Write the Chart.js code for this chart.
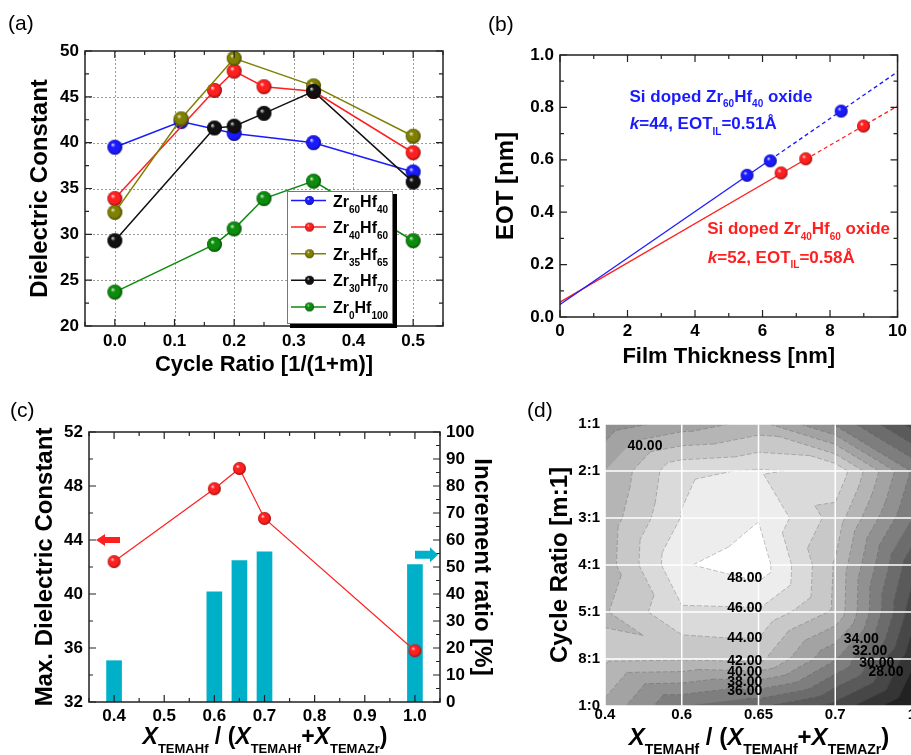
<!DOCTYPE html>
<html>
<head>
<meta charset="utf-8">
<script src="https://cdn.jsdelivr.net/npm/chart.js@4.4.0/dist/chart.umd.min.js"></script>
<style>
html, body { margin: 0; padding: 0; background: #fff; overflow: hidden; width: 911px; height: 755px; }
canvas { position: absolute; }
</style>
</head>
<body>
<canvas id="ca" width="455" height="385" style="left:0;top:0"></canvas>
<canvas id="cb" width="456" height="385" style="left:455px;top:0"></canvas>
<canvas id="cc" width="500" height="367" style="left:0;top:388px"></canvas>
<canvas id="cd" width="440" height="367" style="left:500px;top:388px"></canvas>
<script>
// (a) dielectric constant vs cycle ratio 1/(1+m)
const ratioZr60 = [0, 0.111, 0.2, 0.333, 0.5];
const kZr60 = [39.5, 42.3, 41.0, 40.0, 36.8];
const ratioZr40 = [0, 0.167, 0.2, 0.25, 0.333, 0.5];
const kZr40 = [33.9, 45.7, 47.8, 46.1, 45.6, 38.9];
const ratioZr35 = [0, 0.111, 0.2, 0.333, 0.5];
const kZr35 = [32.4, 42.6, 49.2, 46.2, 40.7];
const ratioZr30 = [0, 0.167, 0.2, 0.25, 0.333, 0.5];
const kZr30 = [29.3, 41.6, 41.8, 43.2, 45.6, 35.7];
const ratioZr0 = [0, 0.167, 0.2, 0.25, 0.333, 0.5];
const kZr0 = [23.7, 28.9, 30.6, 33.9, 35.8, 29.3];
const seriesNames = ['Zr60Hf40', 'Zr40Hf60', 'Zr35Hf65', 'Zr30Hf70', 'Zr0Hf100'];
const legendLabels = ['Zr_{60}Hf_{40}', 'Zr_{40}Hf_{60}', 'Zr_{35}Hf_{65}', 'Zr_{30}Hf_{70}', 'Zr_{0}Hf_{100}'];
const aTicksX = [0, 0.1, 0.2, 0.3, 0.4, 0.5];
const aTicksY = [20, 25, 30, 35, 40, 45, 50];

// (b) EOT vs film thickness
const tZr60 = [5.54, 6.23, 8.33];
const eotZr60 = [0.541, 0.596, 0.786];
const tZr40 = [6.55, 7.28, 8.99];
const eotZr40 = [0.550, 0.604, 0.729];
const fitZr60T = [0, 6.23, 10];
const fitZr60E = [0.048, 0.600, 0.936];
const fitZr40T = [0, 7.28, 10];
const fitZr40E = [0.057, 0.602, 0.805];
const bTicksX = [0, 2, 4, 6, 8, 10];
const bTicksY = [0, 0.2, 0.4, 0.6, 0.8, 1.0];

// (c) max dielectric constant and increment ratio vs Hf fraction
const xHf = [0.4, 0.6, 0.65, 0.7, 1.0];
const kMax = [42.4, 47.8, 49.3, 45.6, 35.8];
const incRatio = [15.3, 40.8, 52.4, 55.6, 50.9];
const cTicksX = [0.4, 0.5, 0.6, 0.7, 0.8, 0.9, 1.0];
const cTicksY = [32, 36, 40, 44, 48, 52];
const cTicksY2 = [0, 10, 20, 30, 40, 50, 60, 70, 80, 90, 100];

// (d) contour map: rows = cycle ratio, columns = Hf fraction
const dCols = ['0.4', '0.6', '0.65', '0.7', '1'];
const dRows = ['1:1', '2:1', '3:1', '4:1', '5:1', '8:1', '1:0'];
const kGrid = [
  [36.8, 38.9, 40.7, 35.7, 29.3],
  [40.0, 45.6, 46.2, 45.6, 35.8],
  [40.8, 46.1, 47.9, 43.2, 34.0],
  [41.0, 47.8, 49.2, 41.8, 30.7],
  [41.8, 45.7, 45.8, 41.6, 29.0],
  [42.4, 42.2, 42.6, 36.2, 26.6],
  [39.5, 34.0, 32.4, 29.3, 23.8],
];
const kLevels = [22, 24, 26, 28, 30, 32, 34, 36, 38, 40, 42, 44, 46, 48];
const contourLabels = [
  ['40.00', 0.52, 0.47], ['48.00', 1.82, 3.27], ['46.00', 1.82, 3.91], ['44.00', 1.82, 4.55],
  ['42.00', 1.82, 5.05], ['40.00', 1.82, 5.27], ['38.00', 1.82, 5.49], ['36.00', 1.82, 5.69],
  ['34.00', 3.34, 4.58], ['32.00', 3.45, 4.83], ['30.00', 3.54, 5.08], ['28.00', 3.66, 5.29],
];

const FONT = '"Liberation Sans", Arial, sans-serif';
Chart.defaults.font.family = FONT;
Chart.defaults.font.weight = 'bold';
Chart.defaults.color = '#000';
Chart.defaults.animation = false;
Chart.defaults.events = [];
Chart.defaults.plugins.legend.display = false;
Chart.defaults.plugins.tooltip.enabled = false;

const seriesColors = ['#1a1aff', '#ff1f1f', '#808000', '#111111', '#0c8c0c'];
const barColor = '#00afc8';

function sphere(color, r) {
  const s = Math.ceil(2 * r + 2);
  const c = document.createElement('canvas');
  c.width = c.height = s;
  const g = c.getContext('2d');
  const m = s / 2;
  g.fillStyle = color;
  g.beginPath(); g.arc(m, m, r, 0, 2 * Math.PI); g.fill();
  const sh = g.createRadialGradient(m - r * 0.32, m - r * 0.38, 0, m, m, r * 1.05);
  sh.addColorStop(0, 'rgba(255,255,255,0.95)');
  sh.addColorStop(0.3, 'rgba(255,255,255,0)');
  sh.addColorStop(0.7, 'rgba(0,0,0,0)');
  sh.addColorStop(1, 'rgba(0,0,0,0.5)');
  g.fillStyle = sh;
  g.beginPath(); g.arc(m, m, r, 0, 2 * Math.PI); g.fill();
  return c;
}

function drawRich(ctx, str, x, y, o) {
  const size = o.size || 17, sub = o.sub || Math.round(size * 0.6);
  const dy = o.dy !== undefined ? o.dy : size * 0.36;
  const weight = o.weight || 'bold';
  const toks = str.split(/(_\{[^}]*\}|\*[^*]+\*)/).filter(s => s).map(s =>
    s.startsWith('_{') ? {t: s.slice(2, -1), s: true} :
    (s[0] === '*' ? {t: s.slice(1, -1), i: true} : {t: s}));
  const font = k => `${k.i ? 'italic ' : ''}${weight} ${k.s ? sub : size}px ${FONT}`;
  let w = 0;
  toks.forEach(k => { ctx.font = font(k); k.w = ctx.measureText(k.t).width; w += k.w; });
  let cx = o.align === 'center' ? x - w / 2 : x;
  ctx.fillStyle = o.color || '#000';
  ctx.textAlign = 'left';
  ctx.textBaseline = 'alphabetic';
  toks.forEach(k => { ctx.font = font(k); ctx.fillText(k.t, cx, k.s ? y + dy : y); cx += k.w; });
}

function axis(o) {
  return {
    type: 'linear', position: o.pos, min: o.min, max: o.max, reverse: !!o.reverse, offset: false,
    grid: {display: false, drawTicks: false, offset: false},
    border: {display: false},
    afterBuildTicks: s => { s.ticks = o.ticks.map(v => ({value: v})); },
    afterFit: s => { if (s.isHorizontal()) s.height = o.fit; else s.width = o.fit; },
    ticks: {callback: o.fmt, autoSkip: false, maxRotation: 0, padding: o.pad, font: {size: o.size || 17, weight: 'bold'}},
    title: o.title ? {display: true, text: o.title, color: '#000', font: {size: o.tsize, weight: 'bold'}, padding: o.tpad} : {display: false},
  };
}

// border, inward ticks and optional dotted grid
const framePlugin = {
  id: 'frame',
  beforeDatasetsDraw(chart, args, o) {
    if (!o.grid) return;
    const {ctx, chartArea: a, scales} = chart;
    ctx.save();
    ctx.strokeStyle = '#9a9a9a'; ctx.lineWidth = 1; ctx.setLineDash([2, 2]);
    ctx.beginPath();
    o.grid.x.forEach(v => { const p = Math.round(scales.x.getPixelForValue(v)) + 0.5; ctx.moveTo(p, a.top); ctx.lineTo(p, a.bottom); });
    o.grid.y.forEach(v => { const p = Math.round(scales.y.getPixelForValue(v)) + 0.5; ctx.moveTo(a.left, p); ctx.lineTo(a.right, p); });
    ctx.stroke();
    ctx.restore();
  },
  afterDatasetsDraw(chart, args, o) {
    if (!o.axes) return;
    const {ctx, chartArea: a, scales} = chart;
    ctx.save();
    ctx.strokeStyle = '#222'; ctx.lineWidth = 1.5;
    ctx.strokeRect(a.left, a.top, a.right - a.left, a.bottom - a.top);
    ctx.lineWidth = 1.2;
    ctx.beginPath();
    o.axes.forEach(ax => {
      const s = scales[ax.id];
      const majors = s.ticks.map(t => t.value);
      const n0 = Math.ceil(s.min / ax.minor - 1e-6), n1 = Math.floor(s.max / ax.minor + 1e-6);
      for (let n = n0; n <= n1; n++) {
        const v = n * ax.minor;
        const len = majors.some(m => Math.abs(m - v) < ax.minor / 10) ? 7 : 4;
        const p = s.getPixelForValue(v);
        ax.sides.forEach(side => {
          if (side === 'bottom') { ctx.moveTo(p, a.bottom); ctx.lineTo(p, a.bottom - len); }
          if (side === 'top') { ctx.moveTo(p, a.top); ctx.lineTo(p, a.top + len); }
          if (side === 'left') { ctx.moveTo(a.left, p); ctx.lineTo(a.left + len, p); }
          if (side === 'right') { ctx.moveTo(a.right, p); ctx.lineTo(a.right - len, p); }
        });
      }
    });
    ctx.stroke();
    ctx.restore();
  }
};

// legend with subscripts and a drop shadow
const legendPlugin = {
  id: 'richLegend',
  afterDatasetsDraw(chart, args, o) {
    if (!o.labels) return;
    const ctx = chart.ctx;
    ctx.save();
    ctx.fillStyle = '#000';
    ctx.fillRect(o.x + o.w, o.y + 3, 5, o.h + 2);
    ctx.fillRect(o.x + 3, o.y + o.h, o.w, 5);
    ctx.fillStyle = '#fff';
    ctx.fillRect(o.x, o.y, o.w, o.h);
    ctx.strokeStyle = '#777'; ctx.lineWidth = 1;
    ctx.strokeRect(o.x + 0.5, o.y + 0.5, o.w, o.h);
    chart.data.datasets.forEach((ds, i) => {
      const yy = o.y + 9.5 + i * o.row;
      ctx.strokeStyle = ds.borderColor; ctx.lineWidth = 1.5;
      ctx.beginPath(); ctx.moveTo(o.x + 4, yy); ctx.lineTo(o.x + 39, yy); ctx.stroke();
      const mk = o.marks[i];
      ctx.drawImage(mk, o.x + 22.5 - mk.width / 2, yy - mk.height / 2);
      drawRich(ctx, o.labels[i], o.x + 46, yy + 6, {size: 16, sub: 10, dy: 6});
    });
    ctx.restore();
  }
};

// free texts, in pixels or in data units
const notesPlugin = {
  id: 'notes',
  afterDraw(chart, args, o) {
    if (!o.items) return;
    const ctx = chart.ctx;
    ctx.save();
    o.items.forEach(it => {
      const x = it.xv !== undefined ? chart.scales.x.getPixelForValue(it.xv) : it.px;
      const y = it.yv !== undefined ? chart.scales.y.getPixelForValue(it.yv) : it.py;
      drawRich(ctx, it.text, x, y, it);
    });
    ctx.restore();
  }
};

// block arrows pointing to the axes
const arrowsPlugin = {
  id: 'arrows',
  afterDatasetsDraw(chart, args, o) {
    if (!o.items) return;
    const {ctx, chartArea: a, scales} = chart;
    ctx.save();
    o.items.forEach(it => {
      const y = scales[it.axis].getPixelForValue(it.v);
      const x0 = it.side === 'left' ? a.left + it.tail : a.right - it.tail;
      const x1 = it.side === 'left' ? a.left + it.tip : a.right - it.tip;
      const d = Math.sign(x1 - x0), xb = x1 - d * it.headL;
      ctx.fillStyle = it.color;
      ctx.beginPath();
      ctx.moveTo(x0, y - it.shaft / 2); ctx.lineTo(xb, y - it.shaft / 2); ctx.lineTo(xb, y - it.head / 2);
      ctx.lineTo(x1, y); ctx.lineTo(xb, y + it.head / 2); ctx.lineTo(xb, y + it.shaft / 2);
      ctx.lineTo(x0, y + it.shaft / 2); ctx.closePath(); ctx.fill();
    });
    ctx.restore();
  }
};

function clipAbove(poly, t) {
  if (t === -Infinity) return poly;
  const out = [];
  for (let i = 0; i < poly.length; i++) {
    const p = poly[i], q = poly[(i + 1) % poly.length];
    const pin = p.v >= t, qin = q.v >= t;
    if (pin) out.push(p);
    if (pin !== qin) {
      const f = (t - p.v) / (q.v - p.v);
      out.push({x: p.x + f * (q.x - p.x), y: p.y + f * (q.y - p.y), v: t});
    }
  }
  return out;
}

// filled contour of a grid through the chart scales (two triangles per cell)
const contourPlugin = {
  id: 'contour',
  beforeDatasetsDraw(chart, args, o) {
    if (!o.grid) return;
    const {ctx, chartArea: a, scales: {x, y}} = chart;
    const G = o.grid;
    const P = (c, r) => ({x: x.getPixelForValue(c), y: y.getPixelForValue(r), v: G[r][c]});
    const tris = [];
    for (let r = 0; r < G.length - 1; r++) {
      for (let c = 0; c < G[0].length - 1; c++) {
        const tl = P(c, r), tr = P(c + 1, r), br = P(c + 1, r + 1), bl = P(c, r + 1);
        tris.push([tl, br, bl], [tl, tr, br]);
      }
    }
    ctx.save();
    ctx.beginPath(); ctx.rect(a.left, a.top, a.right - a.left, a.bottom - a.top); ctx.clip();
    const n = o.levels.length - 1;
    o.levels.forEach((lo, i) => {
      const g = Math.round(16 + 239 * i / n);
      ctx.fillStyle = ctx.strokeStyle = `rgb(${g},${g},${g})`;
      ctx.lineWidth = 0.7;
      tris.forEach(t => {
        const poly = clipAbove(t, i === 0 ? -Infinity : lo);
        if (poly.length < 3) return;
        ctx.beginPath();
        poly.forEach((q, j) => j ? ctx.lineTo(q.x, q.y) : ctx.moveTo(q.x, q.y));
        ctx.closePath(); ctx.fill(); ctx.stroke();
      });
    });
    ctx.strokeStyle = 'rgba(60,60,60,0.45)'; ctx.lineWidth = 0.7; ctx.setLineDash([5, 2]);
    o.levels.slice(1).forEach(L => {
      tris.forEach(t => {
        const pts = [];
        for (let k = 0; k < 3; k++) {
          const p = t[k], q = t[(k + 1) % 3];
          if ((p.v - L) * (q.v - L) < 0) {
            const f = (L - p.v) / (q.v - p.v);
            pts.push([p.x + f * (q.x - p.x), p.y + f * (q.y - p.y)]);
          }
        }
        if (pts.length === 2) { ctx.beginPath(); ctx.moveTo(...pts[0]); ctx.lineTo(...pts[1]); ctx.stroke(); }
      });
    });
    ctx.setLineDash([]);
    ctx.strokeStyle = '#fff'; ctx.lineWidth = 1.5;
    ctx.beginPath();
    G[0].forEach((_, c) => { const px = x.getPixelForValue(c); ctx.moveTo(px, a.top); ctx.lineTo(px, a.bottom); });
    G.forEach((_, r) => { const py = y.getPixelForValue(r); ctx.moveTo(a.left, py); ctx.lineTo(a.right, py); });
    ctx.stroke();
    ctx.restore();
    ctx.save();
    ctx.fillStyle = '#000'; ctx.font = `bold 14px ${FONT}`;
    ctx.textAlign = 'center'; ctx.textBaseline = 'middle';
    o.labels.forEach(([t, c, r]) => ctx.fillText(t, x.getPixelForValue(c), y.getPixelForValue(r)));
    ctx.restore();
  }
};

const fmt1 = v => v.toFixed(1);
const fmt0 = v => String(v);

// ---------- (a) ----------
const aX = [ratioZr60, ratioZr40, ratioZr35, ratioZr30, ratioZr0];
const aK = [kZr60, kZr40, kZr35, kZr30, kZr0];
new Chart(document.getElementById('ca'), {
  type: 'line',
  data: {
    datasets: aX.map((xs, i) => ({
      label: seriesNames[i],
      data: xs.map((x, j) => ({x, y: aK[i][j]})),
      borderColor: seriesColors[i], borderWidth: 1.5,
      pointStyle: sphere(seriesColors[i], 7.5), pointRadius: 7.5,
      order: -i,
    })),
  },
  options: {
    responsive: false,
    layout: {padding: {top: 51, right: 12, left: 0, bottom: 0}},
    scales: {
      x: axis({pos: 'bottom', min: -0.05, max: 0.55, ticks: aTicksX, fmt: fmt1, pad: 5, fit: 59,
        title: 'Cycle Ratio [1/(1+m)]', tsize: 22, tpad: {top: 0, bottom: 7}}),
      y: axis({pos: 'left', min: 20, max: 50, ticks: aTicksY, fmt: fmt0, pad: 6, fit: 85,
        title: 'Dielectric Constant', tsize: 24, tpad: {top: 26, bottom: 0}}),
    },
    plugins: {
      frame: {grid: {x: aTicksX, y: [25, 30, 35, 40, 45]},
        axes: [{id: 'x', sides: ['bottom', 'top'], minor: 0.05}, {id: 'y', sides: ['left', 'right'], minor: 2.5}]},
      richLegend: {x: 287, y: 191, w: 105, h: 132, row: 26.6, labels: legendLabels,
        marks: seriesColors.map(c => sphere(c, 4.5))},
      notes: {items: [{text: '(a)', px: 8, py: 30, size: 21, weight: 'normal'}]},
    },
  },
  plugins: [framePlugin, legendPlugin, notesPlugin],
});

// ---------- (b) ----------
const blue = '#1a1aff', red = '#ff1f1f';
const dashAfterFirst = c => c.p0DataIndex >= 1 ? [4, 3] : undefined;
new Chart(document.getElementById('cb'), {
  type: 'scatter',
  data: {
    datasets: [
      {data: tZr60.map((x, i) => ({x, y: eotZr60[i]})), pointStyle: sphere(blue, 6.5), pointRadius: 6.5, order: 0},
      {data: tZr40.map((x, i) => ({x, y: eotZr40[i]})), pointStyle: sphere(red, 6.5), pointRadius: 6.5, order: 1},
      {data: fitZr60T.map((x, i) => ({x, y: fitZr60E[i]})), showLine: true, borderColor: blue, borderWidth: 1.3,
        pointRadius: 0, segment: {borderDash: dashAfterFirst}, order: 2},
      {data: fitZr40T.map((x, i) => ({x, y: fitZr40E[i]})), showLine: true, borderColor: red, borderWidth: 1.3,
        pointRadius: 0, segment: {borderDash: dashAfterFirst}, order: 3},
    ],
  },
  options: {
    responsive: false,
    layout: {padding: {top: 55, right: 11, left: 0, bottom: 0}},
    scales: {
      x: axis({pos: 'bottom', min: 0, max: 10, ticks: bTicksX, fmt: fmt0, pad: 4, fit: 68,
        title: 'Film Thickness [nm]', tsize: 22, tpad: {top: 0, bottom: 15}}),
      y: axis({pos: 'left', min: 0, max: 1, ticks: bTicksY, fmt: fmt1, pad: 6, fit: 105,
        title: 'EOT [nm]', tsize: 24, tpad: {top: 37, bottom: 0}}),
    },
    plugins: {
      frame: {axes: [{id: 'x', sides: ['bottom', 'top'], minor: 1}, {id: 'y', sides: ['left', 'right'], minor: 0.1}]},
      notes: {items: [
        {text: '(b)', px: 33, py: 31, size: 21, weight: 'normal'},
        {text: 'Si doped Zr_{60}Hf_{40} oxide', xv: 2.06, yv: 0.822, size: 17, sub: 10, dy: 5.6, color: blue},
        {text: '*k*=44, EOT_{IL}=0.51Å', xv: 2.07, yv: 0.717, size: 17, sub: 10, dy: 5.6, color: blue},
        {text: 'Si doped Zr_{40}Hf_{60} oxide', xv: 4.36, yv: 0.316, size: 17, sub: 10, dy: 5.6, color: red},
        {text: '*k*=52, EOT_{IL}=0.58Å', xv: 4.38, yv: 0.207, size: 17, sub: 10, dy: 5.6, color: red},
      ]},
    },
  },
  plugins: [framePlugin, notesPlugin],
});

// ---------- (c) ----------
new Chart(document.getElementById('cc'), {
  type: 'bar',
  data: {
    datasets: [
      {type: 'line', data: xHf.map((x, i) => ({x, y: kMax[i]})), yAxisID: 'y', borderColor: red, borderWidth: 1.2,
        pointStyle: sphere(red, 6.5), pointRadius: 6.5, order: 0},
      {type: 'bar', data: xHf.map((x, i) => ({x, y: incRatio[i]})), yAxisID: 'y2', backgroundColor: barColor,
        barThickness: 15, grouped: false, order: 1},
    ],
  },
  options: {
    responsive: false,
    layout: {padding: {top: 44, right: 0, left: 0, bottom: 0}},
    scales: {
      x: axis({pos: 'bottom', min: 0.35, max: 1.05, ticks: cTicksX, fmt: fmt1, pad: 4, fit: 53}),
      y: axis({pos: 'left', min: 32, max: 52, ticks: cTicksY, fmt: fmt0, pad: 6, fit: 89,
        title: 'Max. Dielectric Constant', tsize: 24, tpad: {top: 31, bottom: 0}}),
      y2: axis({pos: 'right', min: 0, max: 100, ticks: cTicksY2, fmt: fmt0, pad: 6, fit: 60,
        title: 'Increment ratio [%]', tsize: 24, tpad: {top: 4, bottom: 0}}),
    },
    plugins: {
      frame: {axes: [{id: 'x', sides: ['bottom', 'top'], minor: 0.05}, {id: 'y', sides: ['left'], minor: 2},
        {id: 'y2', sides: ['right'], minor: 5}]},
      arrows: {items: [
        {axis: 'y', v: 44, side: 'left', tail: 31, tip: 7, shaft: 6, head: 12, headL: 9, color: red},
        {axis: 'y2', v: 54.5, side: 'right', tail: 25, tip: 2, shaft: 8, head: 15, headL: 8, color: barColor},
      ]},
      notes: {items: [
        {text: '(c)', px: 10, py: 29, size: 21, weight: 'normal'},
        {text: '*X*_{TEMAHf} / (*X*_{TEMAHf}+*X*_{TEMAZr})', px: 265, py: 356, align: 'center', size: 23, sub: 13, dy: 9},
      ]},
    },
  },
  plugins: [framePlugin, arrowsPlugin, notesPlugin],
});

// ---------- (d) ----------
new Chart(document.getElementById('cd'), {
  type: 'scatter',
  data: {datasets: []},
  options: {
    responsive: false,
    layout: {padding: {top: 36, right: 28, left: 0, bottom: 0}},
    scales: {
      x: axis({pos: 'bottom', min: 0, max: dCols.length - 1, ticks: dCols.map((_, i) => i), fmt: v => dCols[v],
        pad: 0, fit: 49, size: 15}),
      y: axis({pos: 'left', min: 0, max: dRows.length - 1, reverse: true, ticks: dRows.map((_, i) => i), fmt: v => dRows[v],
        pad: 5, fit: 105, size: 15, title: 'Cycle Ratio [m:1]', tsize: 24, tpad: {top: 46, bottom: 0}}),
    },
    plugins: {
      contour: {grid: kGrid, levels: kLevels, labels: contourLabels},
      notes: {items: [
        {text: '(d)', px: 27, py: 29, size: 21, weight: 'normal'},
        {text: '*X*_{TEMAHf} / (*X*_{TEMAHf}+*X*_{TEMAZr})', px: 259, py: 357, align: 'center', size: 24, sub: 14, dy: 9},
      ]},
    },
  },
  plugins: [contourPlugin, notesPlugin],
});
</script>
</body>
</html>
